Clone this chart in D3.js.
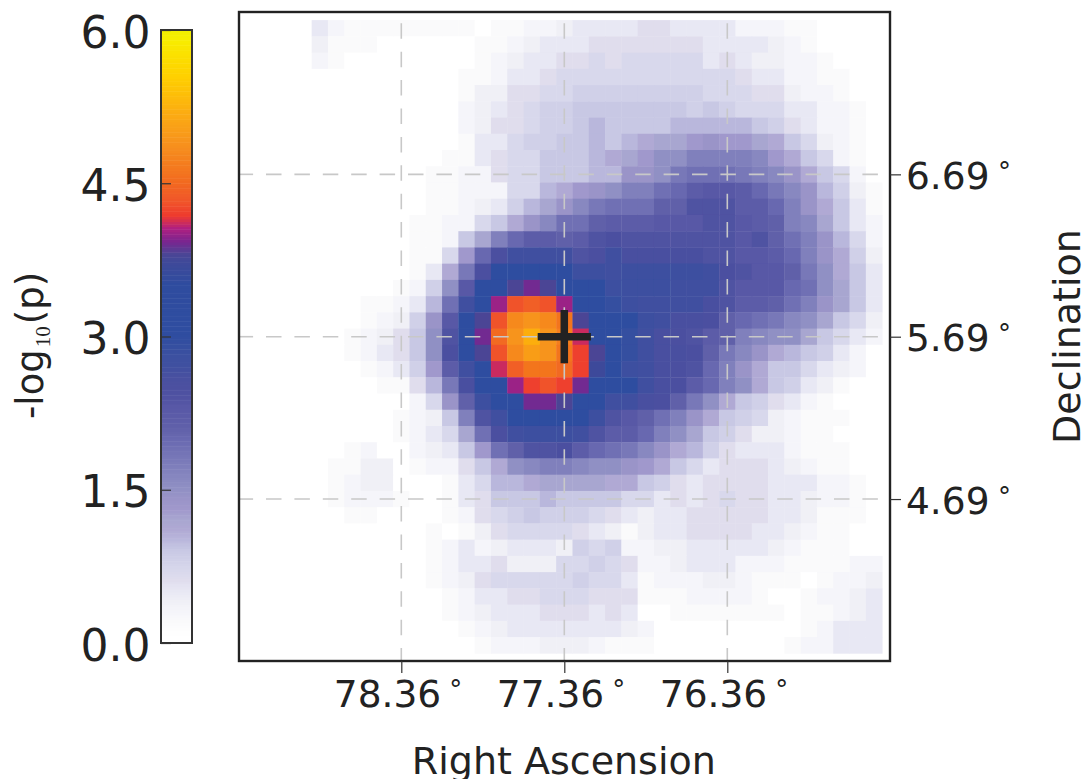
<!DOCTYPE html>
<html><head><meta charset="utf-8">
<script src="https://cdn.jsdelivr.net/npm/d3@7/dist/d3.min.js"></script>
<style>html,body{margin:0;padding:0;background:#fff}svg{display:block}text{font-family:"DejaVu Sans",sans-serif;fill:#222}</style>
</head><body><svg id="c" width="1083" height="779"></svg>
<script>
const r00=[5,3,2,2,2,2,2,2,2,2,0,2,2,3,3,4,5,5,5,5,6,6,5,5,5,5,3,3,3,2,2,0,0,0,0];
const r01=[4,2,2,2,0,0,0,0,0,0,2,2,3,4,5,5,5,6,6,6,6,6,6,6,5,5,5,5,4,3,2,0,0,0,0];
const r02=[3,2,0,0,0,0,0,0,0,0,2,3,4,5,5,6,6,7,6,7,7,7,7,7,5,6,5,4,4,3,3,2,0,0,0];
const r03=[0,0,0,0,0,0,0,0,0,2,2,3,5,5,6,7,7,7,7,7,7,7,7,7,7,7,6,5,5,3,3,2,2,0,0];
const r04=[0,0,0,0,0,0,0,0,0,2,4,4,6,6,7,7,8,8,8,8,8,8,8,8,7,7,7,6,6,4,3,3,2,0,0];
const r05=[0,0,0,0,0,0,0,0,0,3,4,5,6,7,8,8,9,9,9,9,9,9,9,8,9,8,7,7,7,5,5,3,3,2,0];
const r06=[0,0,0,0,0,0,0,0,0,3,4,6,6,7,8,8,9,10,9,9,9,9,10,10,10,10,10,9,8,6,5,3,3,2,0];
const r07=[0,0,0,0,0,0,0,0,0,2,5,5,7,8,8,9,9,10,9,10,11,12,12,13,14,13,13,12,11,9,7,4,3,2,0];
const r08=[0,0,0,0,0,0,0,0,2,2,5,6,7,7,9,9,9,10,11,12,13,15,15,17,17,17,17,16,13,11,9,7,3,2,0];
const r09=[0,0,0,0,0,0,0,2,2,3,3,6,7,7,9,9,9,10,10,14,14,15,18,19,19,19,18,17,16,14,11,9,7,3,0];
const r10=[0,0,0,0,0,0,0,2,2,3,3,3,7,7,10,11,13,14,15,17,17,19,20,22,23,23,22,20,18,16,14,10,8,4,2];
const r11=[0,0,0,0,0,0,0,2,2,3,4,5,8,10,12,14,16,18,19,19,19,21,21,24,24,24,22,22,20,17,14,11,9,5,2];
const r12=[0,0,0,0,0,0,2,2,3,3,7,9,11,14,16,19,19,21,22,22,22,23,23,23,24,24,23,22,21,17,16,12,9,5,3];
const r13=[0,0,0,0,0,0,2,2,3,9,12,17,20,22,22,21,22,24,25,24,24,24,24,24,24,24,23,24,21,19,17,14,10,7,3];
const r14=[0,0,0,0,0,0,2,2,7,13,20,25,27,27,27,27,24,25,27,26,26,26,26,26,24,24,23,23,22,20,17,14,11,8,4];
const r15=[0,0,0,0,0,0,2,5,11,18,25,30,30,30,30,30,28,28,27,28,28,28,28,28,27,25,24,23,23,21,18,15,11,9,5];
const r16=[0,0,0,0,0,2,3,8,15,23,30,31,38,39,38,32,30,30,28,28,28,28,27,27,27,24,23,23,23,20,19,15,12,9,5];
const r17=[0,0,0,2,2,3,5,10,19,27,30,40,43,44,43,40,31,30,29,28,27,27,27,27,26,24,22,22,21,19,17,14,12,9,5];
const r18=[0,0,0,2,3,4,8,14,23,30,38,43,48,49,48,46,38,31,30,30,28,27,26,26,25,21,20,19,18,16,15,12,9,7,4];
const r19=[0,0,2,3,4,6,9,15,24,30,39,45,49,52,49,47,41,31,30,29,27,26,25,24,22,21,17,16,15,15,12,9,7,5,3];
const r20=[0,0,2,3,5,6,9,15,25,30,38,43,48,50,49,46,42,38,30,29,27,26,26,25,21,18,16,14,11,10,9,8,5,3,0];
const r21=[0,0,0,2,3,5,8,13,22,27,30,41,44,46,46,45,42,37,31,28,27,26,25,24,20,17,14,11,9,9,7,5,4,3,0];
const r22=[0,0,0,0,2,2,6,10,18,26,30,31,40,42,43,42,39,32,30,30,27,26,25,22,20,17,15,11,9,8,5,4,2,0,0];
const r23=[0,0,0,0,0,0,3,7,14,21,28,30,32,39,39,38,32,31,27,27,26,25,21,18,15,11,9,8,6,5,3,2,0,0,0];
const r24=[0,0,0,0,0,2,3,4,9,17,24,27,30,30,30,30,30,28,24,23,21,19,17,14,11,9,8,7,4,3,2,2,2,0,0];
const r25=[0,0,0,0,0,2,3,5,7,12,19,25,27,28,28,28,27,24,22,22,20,17,15,12,9,8,6,4,4,3,2,2,0,0,0];
const r26=[0,0,2,3,0,0,3,4,5,9,13,19,21,24,24,25,22,20,19,18,16,14,11,10,8,6,5,5,5,3,2,2,2,0,0];
const r27=[0,2,2,4,4,0,2,3,3,6,9,11,15,16,17,17,16,15,15,14,13,11,9,7,5,6,6,6,5,4,3,2,2,0,0];
const r28=[0,2,3,4,4,0,0,0,2,5,7,10,10,11,12,12,12,12,11,11,9,8,6,5,6,6,6,6,5,5,5,3,3,2,0];
const r29=[0,2,3,3,3,2,0,0,2,5,6,9,9,9,10,9,9,9,9,7,7,5,6,5,6,7,6,6,5,5,4,3,3,2,0];
const r30=[0,0,2,2,0,0,0,0,2,3,6,7,8,9,8,8,8,7,6,5,4,5,5,6,6,6,6,6,5,5,4,2,2,2,0];
const r31=[0,0,0,0,0,0,0,2,0,2,4,6,7,7,7,7,6,5,4,2,4,5,5,6,6,6,6,5,5,4,3,2,2,0,0];
const r32=[0,0,0,0,0,0,0,2,3,5,3,4,5,5,5,4,8,7,8,3,3,4,4,5,5,5,5,5,4,3,2,2,2,0,0];
const r33=[0,0,0,0,0,0,0,2,3,5,5,6,4,4,4,7,7,8,7,6,3,3,4,5,5,5,3,3,3,2,2,2,2,3,3];
const r34=[0,0,0,0,0,0,0,2,3,4,6,7,7,7,7,7,8,7,7,5,2,3,3,3,4,4,3,2,2,2,0,2,3,3,4];
const r35=[0,0,0,0,0,0,0,0,2,3,5,5,6,6,7,7,7,6,6,6,2,2,2,3,3,3,3,2,0,0,2,3,3,4,5];
const r36=[0,0,0,0,0,0,0,0,2,3,4,5,5,5,6,6,6,5,6,5,0,0,2,2,2,2,2,2,2,0,2,2,3,4,5];
const r37=[0,0,0,0,0,0,0,0,0,2,3,4,5,5,5,5,5,5,5,4,3,0,0,0,0,0,0,0,0,0,2,3,5,5,5];
const r38=[0,0,0,0,0,0,0,0,0,0,2,3,3,3,4,4,4,3,2,2,2,0,0,0,0,0,0,0,0,2,3,3,5,5,5];
const logpTenths=[r00,r01,r02,r03,r04,r05,r06,r07,r08,r09,r10,r11,r12,r13,r14,r15,r16,r17,r18,r19,r20,r21,r22,r23,r24,r25,r26,r27,r28,r29,r30,r31,r32,r33,r34,r35,r36,r37,r38];

// colour map
const cmapValues=[0,.1,.2,.3,.4,.5,.6,.7,.8,.9,1.0,1.1,1.2,1.3,1.4,1.5,1.6,1.7,1.8,1.9,2.0,2.1,2.2,2.3,2.4,2.5,2.6,2.7,2.8,3.0,3.5,3.72,3.8,3.92,4.05,4.17,4.31,4.5,4.9,5.22,5.54,5.88,6];
const cmapColors=["#ffffff","#fefefe","#fafafb","#f5f5fa","#f0f0f6","#e8e8f4","#e0dded","#d8d8ec","#d0d0e8","#c8c8e4","#b9b7dc","#b0a9d4","#a8a6d0","#a098cc","#9a94c8","#9090c4","#8888c0","#8080bc","#7878b8","#7070b4","#6868b0","#6060a9","#5c5ca8","#5858a6","#5052a2","#4c50a0","#4850a0","#4050a0","#3c50a0","#2f4da0","#2f4c9f","#3f4999","#4c4595","#7a2590","#b02080","#ee3a2e","#f0552a","#f26a20","#f7941d","#fcb010","#ffd000","#f8ec00","#f0f000"];

// axes
const raDomain=[79.36,75.36], decDomain=[3.69,7.69];
const raTicks=[78.36,77.36,76.36], decTicks=[6.69,5.69,4.69], barTicks=[0,1.5,3,4.5,6];
const raCentre=77.36, decCentre=5.69, cellDeg=0.1, centreCol=15, centreRow=19;
const barSteps=d3.range(0,6,6/240);

const svg=d3.select("#c");
const color=d3.scaleLinear().domain(cmapValues).range(cmapColors).interpolate(d3.interpolateRgb);
const L=239,R=890,T=12,B=661;
const x=d3.scaleLinear().domain(raDomain).range([238.3,890.3]);
const y=d3.scaleLinear().domain(decDomain).range([661.4,12]);

const defs=svg.append("defs");
defs.append("clipPath").attr("id","fr").append("rect").attr("x",L).attr("y",T).attr("width",R-L).attr("height",B-T);
defs.append("filter").attr("id","soft").attr("x","-2%").attr("y","-2%").attr("width","104%").attr("height","104%")
  .append("feGaussianBlur").attr("stdDeviation",0.6);
const plot=svg.append("g").attr("clip-path","url(#fr)");
const heat=plot.append("g").attr("filter","url(#soft)");
const cellW=Math.abs(x(0)-x(cellDeg)), cellH=Math.abs(y(0)-y(cellDeg));
logpTenths.forEach((row,r)=>{
  heat.append("g").selectAll("rect").data(row.map((v,c)=>({v,c}))).join("rect")
    .attr("x",d=>x(raCentre-(d.c-centreCol)*cellDeg)-cellW/2)
    .attr("y",y(decCentre-(r-centreRow)*cellDeg)-cellH/2)
    .attr("width",cellW+.4).attr("height",cellH+.4)
    .attr("fill",d=>color(d.v/10));
});

// grid
const gridStyle=s=>s.attr("stroke","#c8c8c8").attr("stroke-width",1.6).attr("stroke-dasharray","15.5 12.9").attr("fill","none");
plot.selectAll("line.gv").data(raTicks).join("line").attr("class","gv")
  .attr("x1",d=>x(d)).attr("x2",d=>x(d)).attr("y1",T).attr("y2",B).call(gridStyle).attr("stroke-dashoffset",17.1);
plot.selectAll("line.gh").data(decTicks).join("line").attr("class","gh")
  .attr("y1",d=>y(d)).attr("y2",d=>y(d)).attr("x1",L).attr("x2",R).call(gridStyle).attr("stroke-dashoffset",1.4);

// marker
const mx=x(raCentre), my=y(decCentre), mr=26.6;
plot.append("path").attr("d",`M${mx-mr},${my}H${mx+mr}M${mx},${my-mr}V${my+mr}`).attr("stroke","#222").attr("stroke-width",7.5).attr("fill","none");

// frame
svg.append("rect").attr("x",L).attr("y",T).attr("width",R-L).attr("height",B-T).attr("fill","none").attr("stroke","#222").attr("stroke-width",2.4);

const tickFmt=d3.format(".2f");
const gx=svg.append("g").attr("transform",`translate(0,${B})`).call(d3.axisBottom(x).tickValues(raTicks).tickFormat(tickFmt).tickSize(12));
const gy=svg.append("g").attr("transform",`translate(${R},0)`).call(d3.axisRight(y).tickValues(decTicks).tickFormat(tickFmt).tickSize(11));
[gx,gy].forEach(g=>{g.select(".domain").remove();g.selectAll("line").attr("stroke","#333").attr("stroke-width",1.2);
  g.selectAll("text").attr("font-size",37.5).attr("font-family","DejaVu Sans").attr("fill","#222");});
gx.selectAll("text").attr("text-anchor","start").attr("x",-68).attr("y",46).attr("dy",0);
gy.selectAll("text").attr("text-anchor","start").attr("x",16).attr("y",0).attr("dy",14);
const addDeg=(g,dx)=>g.selectAll("text").append("tspan").attr("font-size",26).attr("dx",dx).attr("dy",-8).text("°");
addDeg(gx,8);addDeg(gy,8.5);

svg.append("text").attr("x",563.8).attr("y",773.5).attr("text-anchor","middle").attr("font-size",38).text("Right Ascension");
svg.append("text").attr("transform","translate(1080,336.5) rotate(-90)").attr("text-anchor","middle").attr("font-size",38).text("Declination");

// colour bar
const bx0=161,bx1=192,bT=30,bB=643;
const b=d3.scaleLinear().domain([0,6]).range([bB,bT]);
svg.append("g").selectAll("rect").data(barSteps).join("rect")
  .attr("x",bx0).attr("width",bx1-bx0).attr("y",d=>b(d+6/240)).attr("height",d=>b(d)-b(d+6/240)+.5).attr("fill",d=>color(d));
svg.append("rect").attr("x",bx0).attr("y",bT).attr("width",bx1-bx0).attr("height",bB-bT).attr("fill","none").attr("stroke","#333").attr("stroke-width",2);
const gb=svg.append("g").attr("transform",`translate(${bx0},0)`).call(d3.axisLeft(b).tickValues(barTicks).tickFormat(d3.format(".1f")).tickSizeInner(-10).tickSizeOuter(0).tickPadding(10.5));
gb.select(".domain").remove();
gb.selectAll("line").attr("stroke","#333").attr("stroke-width",1.2);
gb.selectAll("text").attr("font-size",44).attr("font-family","DejaVu Sans").attr("fill","#222").attr("dy",17);

const lab=svg.append("text").attr("transform","translate(43.3,419) rotate(-90)").attr("text-anchor","start").attr("font-size",37);
lab.append("tspan").text("-log");
lab.append("tspan").attr("font-size",21).attr("font-family","Liberation Serif").attr("dx",2).attr("dy",7).text("10");
lab.append("tspan").attr("dx",2).attr("dy",-7).text("(p)");
</script></body></html>
